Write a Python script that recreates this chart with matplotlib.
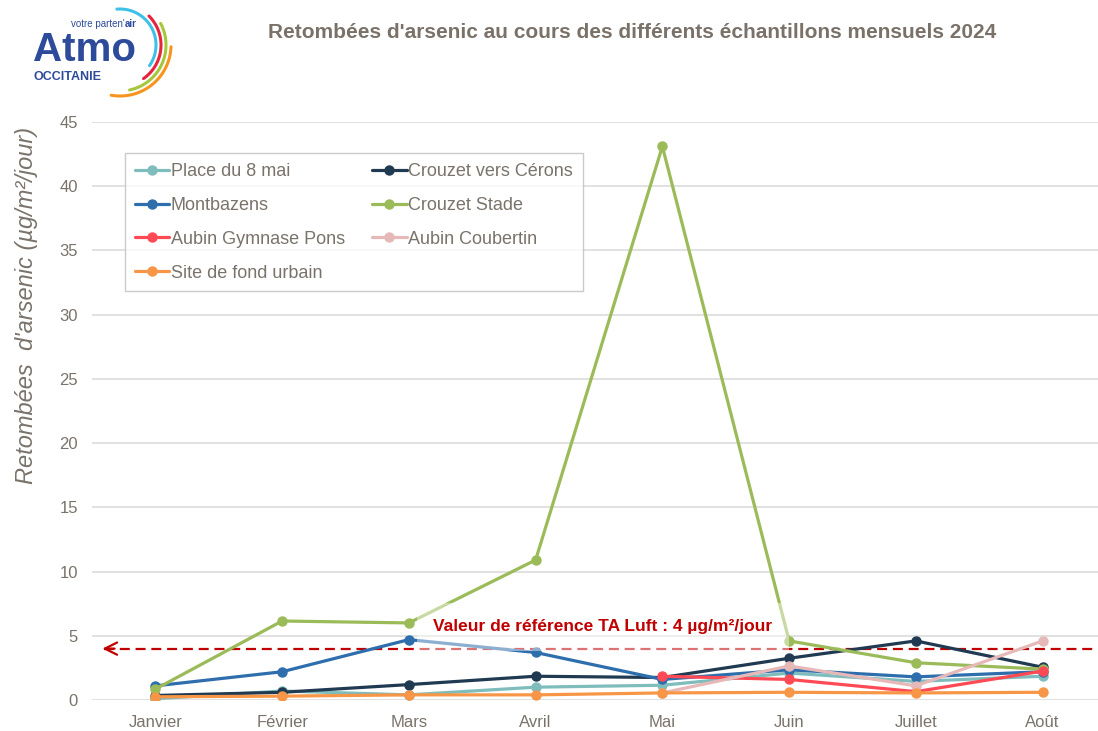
import numpy as np
import matplotlib
matplotlib.use("Agg")
import matplotlib.pyplot as plt

# data
months = ["Janvier", "Février", "Mars", "Avril", "Mai", "Juin", "Juillet", "Août"]
place_8_mai = [0.1, 0.7, 0.4, 1.0, 1.15, 2.1, 1.45, 1.85]
crouzet_cerons = [0.35, 0.6, 1.2, 1.85, 1.75, 3.25, 4.6, 2.55]
montbazens = [1.1, 2.2, 4.7, 3.7, 1.6, 2.35, 1.8, 2.2]
crouzet_stade = [0.85, 6.15, 6.0, 10.9, 43.1, 4.6, 2.9, 2.4]
aubin_pons = [np.nan, np.nan, np.nan, np.nan, 1.85, 1.6, 0.65, 2.25]
aubin_coubertin = [np.nan, np.nan, np.nan, np.nan, 0.55, 2.65, 1.1, 4.6]
fond_urbain = [0.25, 0.3, 0.4, 0.4, 0.55, 0.6, 0.55, 0.6]
ta_luft = 4

series = [
    ("Place du 8 mai", place_8_mai, "#7fbcbc"),
    ("Crouzet vers Cérons", crouzet_cerons, "#203a52"),
    ("Montbazens", montbazens, "#2e6eac"),
    ("Crouzet Stade", crouzet_stade, "#9bbb59"),
    ("Aubin Gymnase Pons", aubin_pons, "#ff4a55"),
    ("Aubin Coubertin", aubin_coubertin, "#e6b9b8"),
    ("Site de fond urbain", fond_urbain, "#f79646"),
]
legend_order = [0, 2, 4, 6, 1, 3, 5]

txt_col = "#7a736b"
plt.rcParams["font.family"] = ["Liberation Sans", "DejaVu Sans"]

fig = plt.figure(figsize=(10.98, 7.31), dpi=100)
ax = fig.add_axes([92 / 1098, 31 / 731, 1014 / 1098, 578 / 731])

x = np.arange(len(months))
handles = []
for name, vals, col in series:
    h, = ax.plot(x, vals, color=col, lw=2.3, marker="o", ms=6.5, label=name,
                 solid_capstyle="round", zorder=3)
    handles.append(h)

ax.set_xlim(-0.5, len(months) - 0.5)
ax.set_ylim(0, 45)
ax.set_yticks(np.arange(0, 46, 5))
ax.set_xticks(x)
ax.set_xticklabels(months)
ax.tick_params(length=0, labelcolor=txt_col, labelsize=12)
ax.tick_params(axis="y", pad=10)
ax.tick_params(axis="x", pad=11)
ax.grid(axis="y", color="#d9d9d9", lw=1.1)
ax.set_axisbelow(True)
for s in ax.spines.values():
    s.set_visible(False)

# reference line TA Luft
ax.axhline(ta_luft, xmin=0.012, color="#c00000", lw=1.6, ls=(0, (4.5, 2.6)), zorder=2)
ax.annotate("", xy=(-0.44, ta_luft), xytext=(-0.3, ta_luft),
            arrowprops=dict(arrowstyle="->", color="#c00000", lw=1.6, mutation_scale=22))
ax.text(3.53, ta_luft + 1.7, "Valeur de référence TA Luft : 4 µg/m²/jour",
        color="#c00000", fontsize=12.5, fontweight="bold",
        ha="center", va="center", zorder=5,
        bbox=dict(boxstyle="square,pad=0.95", fc="white", ec="none", alpha=0.45))

leg = ax.legend([handles[i] for i in legend_order], [series[i][0] for i in legend_order],
                ncol=2, loc="upper left", bbox_to_anchor=(0.0325, 0.946), borderaxespad=0,
                fontsize=13, labelcolor=txt_col, frameon=True, fancybox=False,
                edgecolor="#bfbfbf", handlelength=1.9, handletextpad=0.1,
                columnspacing=1.5, labelspacing=0.93, borderpad=0.55)
leg.get_frame().set_linewidth(1.0)
leg.set_zorder(6)

fig.text(27 / 1098, 1 - 305 / 731, "Retombées  d'arsenic (µg/m²/jour)", rotation=90,
         ha="center", va="center", fontsize=17, style="italic", color=txt_col)
fig.text(632 / 1098, 1 - 32 / 731,
         "Retombées d'arsenic au cours des différents échantillons mensuels 2024",
         ha="center", va="center", fontsize=15, fontweight="bold", color="#7a7269")

# logo
lg = fig.add_axes([0, 1 - 110 / 731, 200 / 1098, 110 / 731])
lg.set_xlim(0, 200)
lg.set_ylim(110, 0)
lg.axis("off")
blue = "#2d4b9a"
lg.text(33, 61, "Atmo", color=blue, fontsize=29, fontweight="bold",
        ha="left", va="baseline")
lg.text(137, 27, "air", color=blue, fontsize=7, fontweight="bold",
        ha="right", va="baseline")
lg.text(125, 27, "votre parten'", color=blue, fontsize=7,
        ha="right", va="baseline")
lg.text(33, 80, "OCCITANIE", color=blue, fontsize=9, fontweight="bold",
        ha="left", va="baseline")
arcs = [("#3ec1e8", 36, -95, 35), ("#e6243c", 41, -45, 55),
        ("#a5c83a", 46, -28, 78), ("#f7941d", 51, 2, 100)]
for col, r, t0, t1 in arcs:
    t = np.radians(np.linspace(t0, t1, 60))
    lg.plot(120 + r * np.cos(t), 45 + r * np.sin(t), color=col, lw=2.2,
            solid_capstyle="round")

fig.savefig("out.png", dpi=100)
